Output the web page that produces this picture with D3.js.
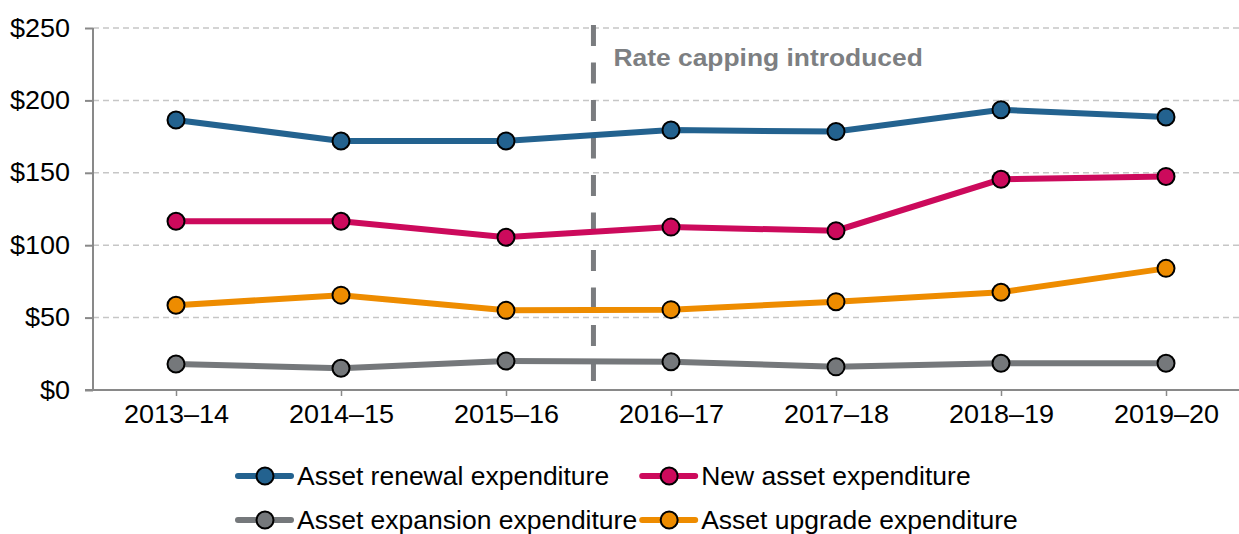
<!DOCTYPE html>
<html>
<head>
<meta charset="utf-8">
<script src="https://cdn.jsdelivr.net/npm/d3@7"></script>
<style>
  body { margin: 0; background: #fff; }
  text { font-family: "Liberation Sans", Arial, sans-serif; }
</style>
</head>
<body>
<div id="chart"></div>
<script>
const width = 1239
const height = 534

const years = ["2013–14", "2014–15", "2015–16", "2016–17", "2017–18", "2018–19", "2019–20"]
const renewal = [186.5, 172, 172, 179.5, 178.5, 193.5, 188.5]
const newAsset = [116.5, 116.5, 105.5, 112.5, 110, 145.5, 147.5]
const expansion = [18, 15, 20, 19.5, 16, 18.5, 18.5]
const upgrade = [58.5, 65.5, 55, 55.5, 61, 67.5, 84]
const yTicks = [0, 50, 100, 150, 200, 250]
const capAt = 2.53   // position of the rate capping line, in category steps
const capLabel = "Rate capping introduced"

const series = [
  {name: "Asset renewal expenditure", values: renewal, color: "#23628f"},
  {name: "New asset expenditure", values: newAsset, color: "#cc0a5c"},
  {name: "Asset expansion expenditure", values: expansion, color: "#75787b"},
  {name: "Asset upgrade expenditure", values: upgrade, color: "#ee8c00"}
]

const margin = {top: 28, left: 93, bottom: 144}
const sx = 1.08   // text in the original is a bit wider than Arial

const svg = d3.select("#chart")
              .append("svg")
              .attr("width", width)
              .attr("height", height)

const x = d3.scalePoint()
            .domain(years)
            .range([176, 1166])

const y = d3.scaleLinear()
            .domain([0, 250])
            .range([height - margin.bottom, margin.top])

const step = x.step()

// gridlines
svg.append("g")
   .selectAll("line")
   .data(yTicks.filter(d => d > 0))
   .enter()
   .append("line")
   .attr("x1", margin.left)
   .attr("x2", width)
   .attr("y1", d => y(d))
   .attr("y2", d => y(d))
   .attr("stroke", "#c6c6c6")
   .attr("stroke-width", 1.5)
   .attr("stroke-dasharray", "6 4")

// y axis
const yAxis = svg.append("g")
   .attr("transform", `translate(${margin.left},0)`)
   .call(d3.axisLeft(y).tickValues(yTicks).tickSize(8).tickFormat(d => "$" + d))
yAxis.select(".domain").attr("stroke", "#898989").attr("stroke-width", 2).attr("d", `M0,${y(250)}V${y(0)}`)
yAxis.selectAll(".tick line").attr("stroke", "#898989").attr("stroke-width", 2)
yAxis.selectAll(".tick text")
     .attr("font-size", 25)
     .attr("fill", "#000")
     .attr("font-family", "Liberation Sans, Arial, sans-serif")
     .attr("x", -23 / sx)
     .attr("transform", `scale(${sx},1)`)

// x axis
const xAxis = svg.append("g")
   .attr("transform", `translate(0,${y(0)})`)
   .call(d3.axisBottom(x).tickSize(6).tickPadding(9))
xAxis.select(".domain").attr("stroke", "#898989").attr("stroke-width", 2).attr("d", `M${margin.left - 8},0H${width}`)
xAxis.selectAll(".tick line").attr("stroke", "#898989").attr("stroke-width", 1.5)
xAxis.selectAll(".tick text")
     .attr("font-size", 25)
     .attr("fill", "#000")
     .attr("font-family", "Liberation Sans, Arial, sans-serif")
     .attr("transform", `scale(${sx},1)`)

// rate capping marker
const capX = x(years[0]) + capAt * step
svg.append("line")
   .attr("x1", capX)
   .attr("x2", capX)
   .attr("y1", 25)
   .attr("y2", 381)
   .attr("stroke", "#7a7c7f")
   .attr("stroke-width", 5)
   .attr("stroke-dasharray", "21 16.5")

svg.append("text")
   .attr("transform", `translate(${capX + 20},66) scale(1.1,1)`)
   .attr("font-size", 24)
   .attr("font-weight", "bold")
   .attr("fill", "#7d7f82")
   .text(capLabel)

// lines and markers
const line = d3.line()
               .x((d, i) => x(years[i]))
               .y(d => y(d))

const plot = svg.append("g")
plot.selectAll("path")
    .data(series)
    .enter()
    .append("path")
    .attr("d", d => line(d.values))
    .attr("fill", "none")
    .attr("stroke", d => d.color)
    .attr("stroke-width", 6)

series.forEach(s => {
  plot.append("g")
      .selectAll("circle")
      .data(s.values)
      .enter()
      .append("circle")
      .attr("cx", (d, i) => x(years[i]))
      .attr("cy", d => y(d))
      .attr("r", 8.5)
      .attr("fill", s.color)
      .attr("stroke", "#000")
      .attr("stroke-width", 2)
})

// legend
const lsx = 1.06
const legend = svg.append("g").attr("id", "legend")
const rows = [476, 520]
const col1 = 238
const items = legend.selectAll("g")
                    .data(series)
                    .enter()
                    .append("g")

items.append("text")
     .attr("font-size", 25)
     .attr("fill", "#000")
     .attr("y", 9)
     .attr("x", 59 / lsx)
     .attr("transform", `scale(${lsx},1)`)
     .text(d => d.name)

let maxW = 0
items.selectAll("text").each(function(d) {
  const w = this.getComputedTextLength() * lsx
  if (series.indexOf(d) % 2 == 0 && w > maxW) maxW = w
})
const col2 = col1 + 59 + maxW + 5

items.attr("transform", (d, i) => `translate(${i % 2 == 0 ? col1 : col2},${rows[Math.floor(i / 2)]})`)

items.append("line")
     .attr("x1", 0)
     .attr("x2", 53)
     .attr("stroke", d => d.color)
     .attr("stroke-width", 6)
     .attr("stroke-linecap", "round")

items.append("circle")
     .attr("cx", 27)
     .attr("r", 8.5)
     .attr("fill", d => d.color)
     .attr("stroke", "#000")
     .attr("stroke-width", 2)
</script>
</body>
</html>
